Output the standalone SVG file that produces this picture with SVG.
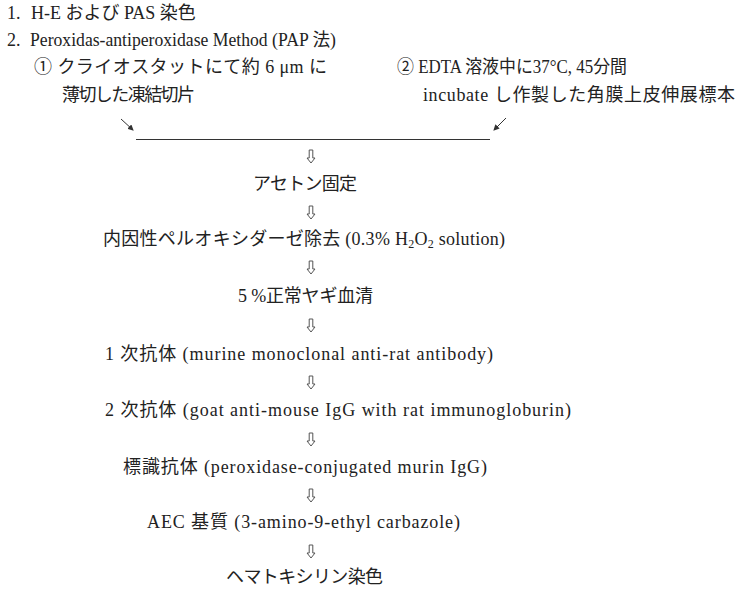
<svg xmlns="http://www.w3.org/2000/svg" width="747" height="592" viewBox="0 0 747 592">
<style>
text{font-family:"Liberation Serif","Noto Sans CJK JP",serif;font-size:18px;fill:#222}
.conn{fill:none;stroke:#333;stroke-width:1}
.harrow{fill:#fff;stroke:#555;stroke-width:1}
</style>
<defs>
<marker id="ah" markerWidth="6" markerHeight="6" refX="5" refY="3" orient="auto" markerUnits="userSpaceOnUse">
<path d="M0,0 L6,3 L0,6 Z" fill="#333"/>
</marker>
<path id="down" class="harrow" d="M-1.8,-7 L1.8,-7 L1.8,1 L4,1 L0,6 L-4,1 L-1.8,1 Z"/>
</defs>
<rect width="747" height="592" fill="#fff"/>
<g id="header">
<text x="7" y="19">1.<tspan x="31">H-E および PAS 染色</tspan></text>
<text x="7" y="46">2.<tspan x="30" textLength="306" lengthAdjust="spacingAndGlyphs">Peroxidas-antiperoxidase Method (PAP 法)</tspan></text>
</g>
<g id="source1">
<text x="34" y="73" textLength="293" lengthAdjust="spacing">① クライオスタットにて約 6 μm に</text>
<text x="62" y="101" textLength="133" lengthAdjust="spacing">薄切した凍結切片</text>
</g>
<g id="source2">
<text x="397" y="73" textLength="230" lengthAdjust="spacingAndGlyphs">② EDTA 溶液中に37°C, 45分間</text>
<text x="423" y="101" textLength="312" lengthAdjust="spacing">incubate し作製した角膜上皮伸展標本</text>
</g>
<g id="step1"><text x="253" y="190" textLength="104" lengthAdjust="spacing">アセトン固定</text></g>
<g id="step2"><text x="103" y="245" textLength="402" lengthAdjust="spacing">内因性ペルオキシダーゼ除去 (0.3% H<tspan font-size="12" dy="3">2</tspan><tspan dy="-3">O</tspan><tspan font-size="12" dy="3">2</tspan><tspan dy="-3"> solution)</tspan></text></g>
<g id="step3"><text x="238" y="302" textLength="135" lengthAdjust="spacing">5 %正常ヤギ血清</text></g>
<g id="step4"><text x="105" y="360" textLength="388" lengthAdjust="spacing">1 次抗体 (murine monoclonal anti-rat antibody)</text></g>
<g id="step5"><text x="105" y="416" textLength="466" lengthAdjust="spacing">2 次抗体 (goat anti-mouse IgG with rat immunogloburin)</text></g>
<g id="step6"><text x="123" y="473" textLength="364" lengthAdjust="spacing">標識抗体 (peroxidase-conjugated murin IgG)</text></g>
<g id="step7"><text x="147" y="528" textLength="313" lengthAdjust="spacing">AEC 基質 (3-amino-9-ethyl carbazole)</text></g>
<g id="step8"><text x="226" y="583" textLength="157" lengthAdjust="spacing">ヘマトキシリン染色</text></g>
<g id="connectors">
<line class="conn" x1="121" y1="119" x2="133" y2="130" marker-end="url(#ah)"/>
<line class="conn" x1="506" y1="118" x2="494" y2="130" marker-end="url(#ah)"/>
<line class="conn" x1="136" y1="139.5" x2="490" y2="139.5"/>
<use href="#down" x="311" y="157"/>
<use href="#down" x="311" y="213"/>
<use href="#down" x="311" y="268"/>
<use href="#down" x="311" y="326"/>
<use href="#down" x="311" y="383"/>
<use href="#down" x="311" y="440"/>
<use href="#down" x="311" y="496"/>
<use href="#down" x="311" y="552"/>
</g>
</svg>
